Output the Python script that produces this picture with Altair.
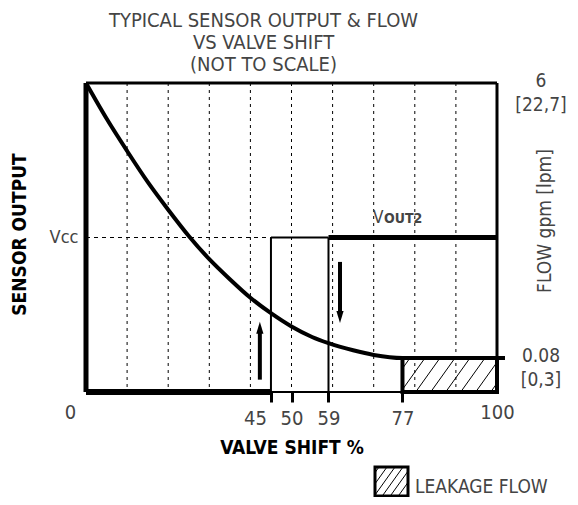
import altair as alt
import pandas as pd

# ---------------- data ----------------
curve_x = [0, 5, 10, 15, 20, 25, 30, 35, 40, 45, 50, 55, 59, 65, 70, 77, 100]
curve_y = [1.00, 0.885, 0.78, 0.68, 0.59, 0.505, 0.43, 0.365, 0.305, 0.255,
           0.212, 0.178, 0.158, 0.135, 0.12, 0.11, 0.11]
grid_x = [10, 20, 30, 40, 50, 60, 70, 80, 90]
x_tick_values = [0, 45, 50, 59, 77, 100]
VCC = 0.5          # sensor output level Vcc (relative)
FLOW_LOW = 0.11    # drawn level of 0.08 gpm
SW_ON = 45         # switching point rising
SW_OFF = 59        # switching point falling
LEAK = 77          # start of leakage flow
right_labels = ["6\n[22,7]", "0.08\n[0,3]"]
right_label_y = [1.0, FLOW_LOW]
arrow_up = {"x": 42.3, "tail": 0.04, "shaft": 0.20, "tip": 0.227}
arrow_down = {"x": 61.8, "tail": 0.421, "shaft": 0.255, "tip": 0.223}

W, H = 411, 309
FONT = "DejaVu Sans Condensed, Liberation Sans Narrow, sans-serif"
TXT = "#444444"

xs = alt.Scale(domain=[0, 100], nice=False, zero=False)
ys = alt.Scale(domain=[0, 1], nice=False, zero=False)

x_axis = alt.Axis(
    values=x_tick_values, title="VALVE SHIFT %", grid=False, domain=False,
    labelFont=FONT, labelFontSize=20, labelColor=TXT, labelFlush=False,
    labelOverlap=False,
    labelOffset={"condition": {"test": "datum.value == 0 || datum.value == 45", "value": -16}, "value": 0},
    labelPadding={"condition": {"test": "datum.value == 0 || datum.value == 100", "value": 0}, "value": 6},
    tickSize=10, tickWidth=3, tickColor="black",
    tickOpacity={"condition": {"test": "datum.value == 0 || datum.value == 100", "value": 0}, "value": 1},
    titleFont=FONT, titleFontSize=19, titleFontWeight="bold", titleColor="black",
    titleY=55, titleBaseline="middle",
)
y_axis = alt.Axis(
    values=[VCC], labelExpr="'Vcc'", ticks=False, domain=False, grid=False,
    labelFont=FONT, labelFontSize=18, labelColor=TXT, labelPadding=8,
    title="SENSOR OUTPUT", titleFont=FONT, titleFontSize=19, titleFontWeight="bold",
    titleColor="black", titleAngle=270, titleX=-67, titleY=151,
    titleAlign="center", titleBaseline="middle",
)


def X(f):
    return alt.X(f"{f}:Q", scale=xs, axis=x_axis)


def Y(f):
    return alt.Y(f"{f}:Q", scale=ys, axis=y_axis)


def seg(x, x2, y, y2, w, dash=None):
    kw = dict(color="black", strokeWidth=w, strokeCap="butt")
    if dash:
        kw["strokeDash"] = dash
    df = pd.DataFrame({"x": [x], "x2": [x2], "y": [y], "y2": [y2]})
    return alt.Chart(df).mark_rule(**kw).encode(
        x=X("x"), x2="x2:Q", y=Y("y"), y2="y2:Q")


def hatch(x0, x1, y0, y1, spacing, slope):
    out = []
    h = y1 - y0
    c = x0 - h / slope + spacing / 2
    while c < x1:
        xa = max(x0, c)
        xb = min(x1, c + h / slope)
        if xb > xa:
            out.append((xa, y0 + slope * (xa - c), xb, y0 + slope * (xb - c)))
        c += spacing
    return out


layers = []

# dashed vertical grid
layers.append(alt.Chart(pd.DataFrame({"x": grid_x})).mark_rule(
    color="black", strokeWidth=1, strokeDash=[3, 4]).encode(
    x=X("x"), y=alt.value(0), y2=alt.value(H)))
# Vcc dashed reference
layers.append(seg(0, SW_ON, VCC, VCC, 1, [4, 4]))

# leakage hatch (computed in pixel space, converted to data units)
hp = hatch(LEAK * W / 100, W, 0, FLOW_LOW * H, 15, 1.4)
hdf = pd.DataFrame({"x": [s[0] * 100 / W for s in hp], "x2": [s[2] * 100 / W for s in hp],
                    "y": [s[1] / H for s in hp], "y2": [s[3] / H for s in hp]})
layers.append(alt.Chart(hdf).mark_rule(color="black", strokeWidth=1).encode(
    x=X("x"), x2="x2:Q", y=Y("y"), y2="y2:Q"))
layers.append(alt.Chart(pd.DataFrame({"x": [LEAK], "x2": [100], "y": [0], "y2": [FLOW_LOW]}))
              .mark_rect(fill=None, stroke="black", strokeWidth=4).encode(
    x=X("x"), x2="x2:Q", y=Y("y"), y2="y2:Q"))

# frame
layers.append(seg(0, 100, 0, 0, 2))
layers.append(seg(0, 0, 0, 1, 5))
layers.append(seg(0, 100, 1, 1, 3))
layers.append(seg(100, 100, 0, 1, 3))

# switching output
layers.append(seg(0, SW_ON, 0, 0, 6))
layers.append(seg(SW_ON, SW_ON, 0, VCC, 2))
layers.append(seg(SW_ON, SW_OFF, VCC, VCC, 2))
layers.append(seg(SW_OFF, SW_OFF, 0, VCC, 2))
layers.append(seg(SW_OFF, 100, VCC, VCC, 5))

# flow curve
layers.append(alt.Chart(pd.DataFrame({"x": curve_x, "y": curve_y})).mark_line(
    color="black", strokeWidth=4, interpolate="monotone").encode(x=X("x"), y=Y("y")))
# small tick right of frame at low flow
layers.append(alt.Chart(pd.DataFrame({"x": [100], "y": [FLOW_LOW]})).mark_rule(
    color="black", strokeWidth=4).encode(x=X("x"), x2=alt.value(W + 8), y=Y("y")))

# arrows
for a, path in [(arrow_up, "M -0.6 2 L 0 0 L 0.6 2 Z"), (arrow_down, "M -0.6 -2 L 0 0 L 0.6 -2 Z")]:
    layers.append(seg(a["x"], a["x"], a["tail"], a["shaft"], 4))
    layers.append(alt.Chart(pd.DataFrame({"x": [a["x"]], "y": [a["tip"]]})).mark_point(
        shape=path, size=144, filled=True, color="black", opacity=1).encode(x=X("x"), y=Y("y")))

# VOUT2 label
layers.append(alt.Chart(pd.DataFrame({"y": [VCC]})).mark_text(
    text="V", font=FONT, fontSize=17, color=TXT, align="left", dy=-15, baseline="alphabetic").encode(
    x=alt.value(287), y=Y("y")))
layers.append(alt.Chart(pd.DataFrame({"y": [VCC]})).mark_text(
    text="OUT2", font=FONT, fontSize=14, fontWeight="bold", color=TXT, align="left", dy=-15,
    baseline="alphabetic").encode(x=alt.value(298), y=Y("y")))

# right-hand flow labels
layers.append(alt.Chart(pd.DataFrame({"y": right_label_y, "t": right_labels})).mark_text(
    font=FONT, fontSize=19, color=TXT, align="center", baseline="top", dy=-11,
    lineBreak="\n", lineHeight=24).encode(x=alt.value(455), y=Y("y"), text="t:N"))
layers.append(alt.Chart(pd.DataFrame({"t": ["FLOW gpm [lpm]"]})).mark_text(
    font=FONT, fontSize=19, color=TXT, angle=270, align="center", baseline="middle").encode(
    x=alt.value(459), y=alt.value(138), text="t:N"))

# legend
LX0, LX1, LY0, LY1 = 289, 322, 384, 413
for s in hatch(LX0, LX1, 0, LY1 - LY0, 8, 1.4):
    layers.append(alt.Chart(pd.DataFrame({"t": [0]})).mark_rule(color="black", strokeWidth=1).encode(
        x=alt.value(s[0]), x2=alt.value(s[2]), y=alt.value(LY1 - s[1]), y2=alt.value(LY1 - s[3])))
layers.append(alt.Chart(pd.DataFrame({"t": [0]})).mark_rect(
    fill=None, stroke="black", strokeWidth=3).encode(
    x=alt.value(LX0), x2=alt.value(LX1), y=alt.value(LY0), y2=alt.value(LY1)))
layers.append(alt.Chart(pd.DataFrame({"t": ["LEAKAGE FLOW"]})).mark_text(
    font=FONT, fontSize=19, color=TXT, align="left", baseline="middle").encode(
    x=alt.value(329), y=alt.value(404), text="t:N"))

chart = alt.layer(*layers).properties(
    width=W, height=H,
    autosize=alt.AutoSizeParams(type="none"),
    padding={"left": 78, "top": 75, "right": 73, "bottom": 105},
    title=alt.TitleParams(
        text=["TYPICAL SENSOR OUTPUT & FLOW", "VS VALVE SHIFT", "(NOT TO SCALE)"],
        font=FONT, fontSize=20, fontWeight="normal", color=TXT, lineHeight=22,
        anchor="middle", frame="group", dx=-28, offset=-3),
).configure_view(stroke=None).configure(background="white")

chart.save("out.html", embed_options={"renderer": "svg", "actions": False})
